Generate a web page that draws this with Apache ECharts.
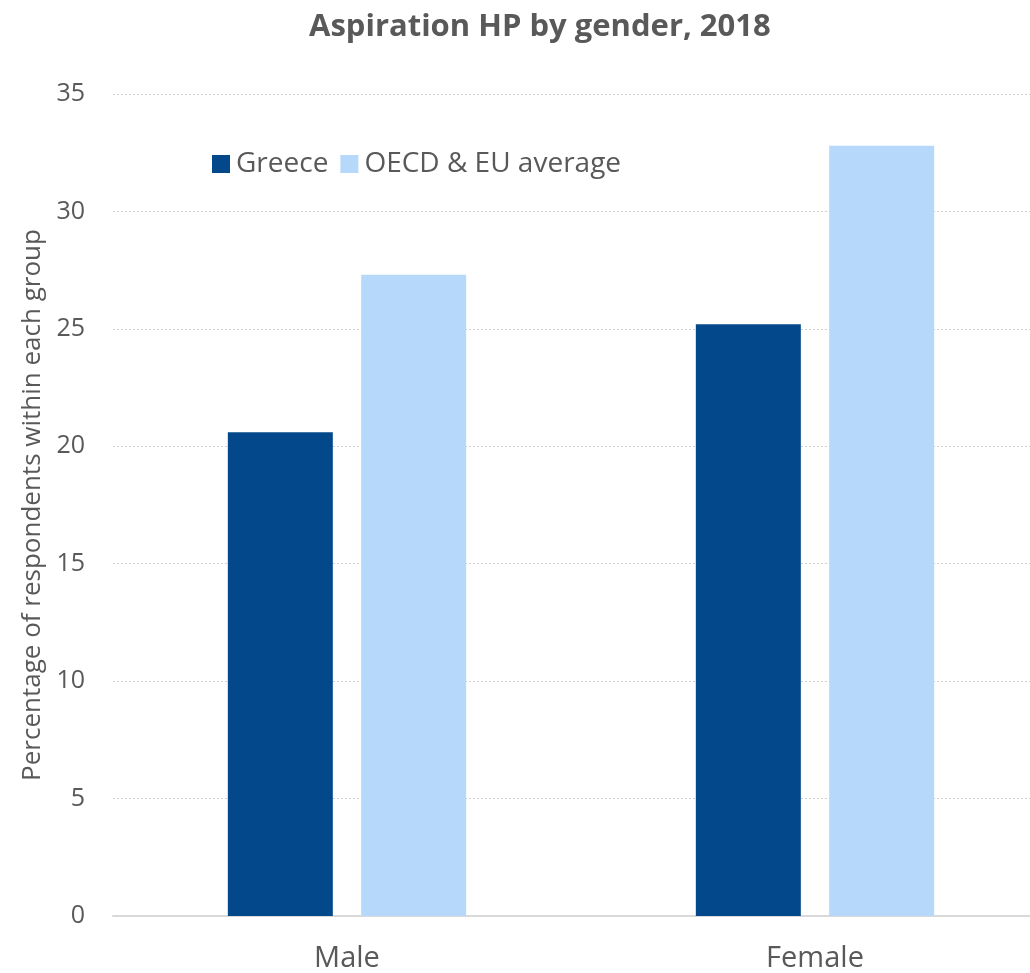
<!DOCTYPE html>
<html>
<head>
<meta charset="utf-8">
<script src="https://cdn.jsdelivr.net/npm/echarts@6/dist/echarts.min.js"></script>
<style>
  html, body { margin: 0; padding: 0; background: #fff; overflow: hidden; }
  /* plot area runs past the right edge of the picture, as in the reference */
  #chart { width: 1050px; height: 973px; }
</style>
</head>
<body>
<div id="chart"></div>
<script>
// data
var categories = ['Male', 'Female'];
var greece = [20.6, 25.2];
var oecdEu = [27.3, 32.8];
var seriesNames = ['Greece', 'OECD & EU average'];

var font = 'Open Sans';
var myChart = echarts.init(document.getElementById('chart'));

myChart.setOption({
    animation: false,
    color: ['#03488A', '#B6D9FB'],
    title: {
        text: 'Aspiration HP by gender, 2018',
        left: 304,
        top: 7,
        textStyle: { fontFamily: font, fontSize: 31, fontWeight: 'bold', color: '#595959' }
    },
    legend: {
        data: seriesNames,
        left: 207,
        top: 145,
        itemWidth: 18,
        itemHeight: 18,
        itemGap: 12,
        icon: 'rect',
        textStyle: { fontFamily: font, fontSize: 28, color: '#595959', padding: [0, 0, 0, 1] }
    },
    grid: {
        left: 113,
        right: 1,
        top: 94,
        bottom: 56,
        containLabel: false
    },
    xAxis: {
        type: 'category',
        data: categories,
        axisLine: { lineStyle: { color: '#d9d9d9', width: 2 } },
        axisTick: { show: false },
        axisLabel: { fontFamily: font, fontSize: 29, color: '#595959', margin: 28 }
    },
    yAxis: {
        type: 'value',
        min: 0,
        max: 35,
        interval: 5,
        name: 'Percentage of respondents within each group',
        nameLocation: 'middle',
        nameGap: 64,
        nameTextStyle: { fontFamily: font, fontSize: 26, color: '#595959' },
        axisLine: { show: false },
        axisTick: { show: false },
        axisLabel: { fontFamily: font, fontSize: 25, color: '#595959', margin: 28 },
        splitLine: { lineStyle: { color: '#d0d0d0', type: [2, 2], width: 1 } }
    },
    series: [
        {
            name: seriesNames[0],
            type: 'bar',
            data: greece,
            barWidth: 105,
            barGap: '27%'
        },
        {
            name: seriesNames[1],
            type: 'bar',
            data: oecdEu,
            barWidth: 105
        }
    ]
});
</script>
</body>
</html>
